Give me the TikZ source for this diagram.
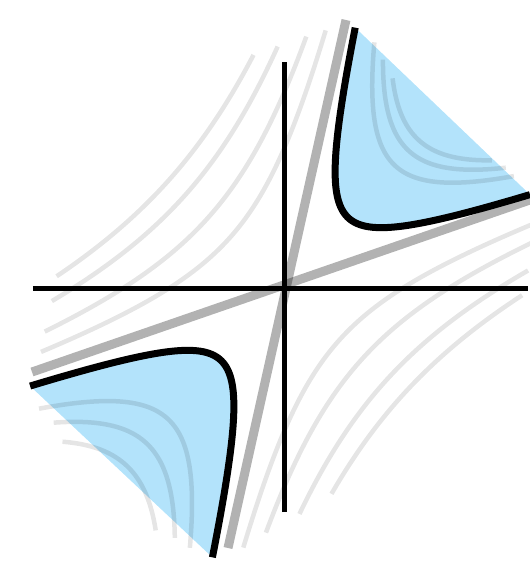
\documentclass[tikz,border=0pt]{standalone}
\usepackage{tikz}
\definecolor{skyfill}{RGB}{179,227,251}
\tikzset{
  axisline/.style={line width=5pt, black},
  asymline/.style={line width=9pt, black, draw opacity=0.3},
  levelcurve/.style={line width=4.5pt, black, draw opacity=0.1},
  hypcurve/.style={line width=7pt, black},
}
% #1 style, #2 sign of s, #3 sign of t, #4 sqrt of level |s t|, #5 min |s|, #6 max |s|
\newcommand\hypline[6]{%
  \pgfmathsetmacro\hypA{ln(#5/#4)}%
  \pgfmathsetmacro\hypB{ln(#6/#4)}%
  \draw[#1] plot[domain=\hypA:\hypB, samples=120, smooth] ({#2*#4*exp(\x)},{#3*#4*exp(-\x)});}
\newcommand\hypfill[6]{%
  \pgfmathsetmacro\hypA{ln(#5/#4)}%
  \pgfmathsetmacro\hypB{ln(#6/#4)}%
  \fill[#1] plot[domain=\hypA:\hypB, samples=120, smooth] ({#2*#4*exp(\x)},{#3*#4*exp(-\x)}) -- cycle;}
\begin{document}
\begin{tikzpicture}[x=1pt,y=1pt]
\useasboundingbox (-284.5,-275) rectangle (245.5,288);
\begin{scope}[cm={1,0.342,0.233,1,(0pt,-1pt)}]
  % shaded regions
  \hypfill{skyfill}{1}{1}{52.44}{10.66}{243}
  \hypfill{skyfill}{-1}{-1}{52.44}{10.37}{252}
  % level curves inside shaded regions
  \hypline{levelcurve}{1}{1}{90.88}{35.2}{221}
  \hypline{levelcurve}{1}{1}{101.98}{48.9}{209.8}
  \hypline{levelcurve}{1}{1}{110.0}{64.1}{193}
  \hypline{levelcurve}{-1}{-1}{95.81}{37.3}{236.7}
  \hypline{levelcurve}{-1}{-1}{113.58}{56.2}{217.1}
  \hypline{levelcurve}{-1}{-1}{130.0}{78.8}{202.8}
  % level curves, upper left
  \hypline{levelcurve}{-1}{1}{74.16}{20.7}{249}
  \hypline{levelcurve}{-1}{1}{103.44}{40.2}{250}
  \hypline{levelcurve}{-1}{1}{135.28}{68.8}{250}
  \hypline{levelcurve}{-1}{1}{157.16}{92.9}{251}
  % level curves, lower right
  \hypline{levelcurve}{1}{-1}{74.16}{20.7}{260}
  \hypline{levelcurve}{1}{-1}{103.44}{41.5}{260}
  \hypline{levelcurve}{1}{-1}{135.28}{73.2}{260}
  \hypline{levelcurve}{1}{-1}{157.16}{102.9}{260}
\end{scope}
% axes
\coordinate (xl) at (-251.5,0);
\coordinate (xr) at (244,0);
\coordinate (yb) at (0,-224);
\coordinate (yt) at (0,226);
\draw[axisline] (xl) -- (xr);
\draw[axisline] (yb) -- (yt);
% asymptotes
\coordinate (sa1) at (61.5,268);
\coordinate (sa2) at (-56.5,-260);
\coordinate (sb1) at (-252.5,-84);
\coordinate (sb2) at (250,89.6);
\draw[asymline] (sa1) -- (sa2);
\draw[asymline] (sb1) -- (sb2);
% hyperbola
\begin{scope}[cm={1,0.342,0.233,1,(0pt,-1pt)}]
  \hypline{hypcurve}{1}{1}{52.44}{10.66}{243}
  \hypline{hypcurve}{-1}{-1}{52.44}{10.37}{252}
\end{scope}
\end{tikzpicture}
\end{document}
